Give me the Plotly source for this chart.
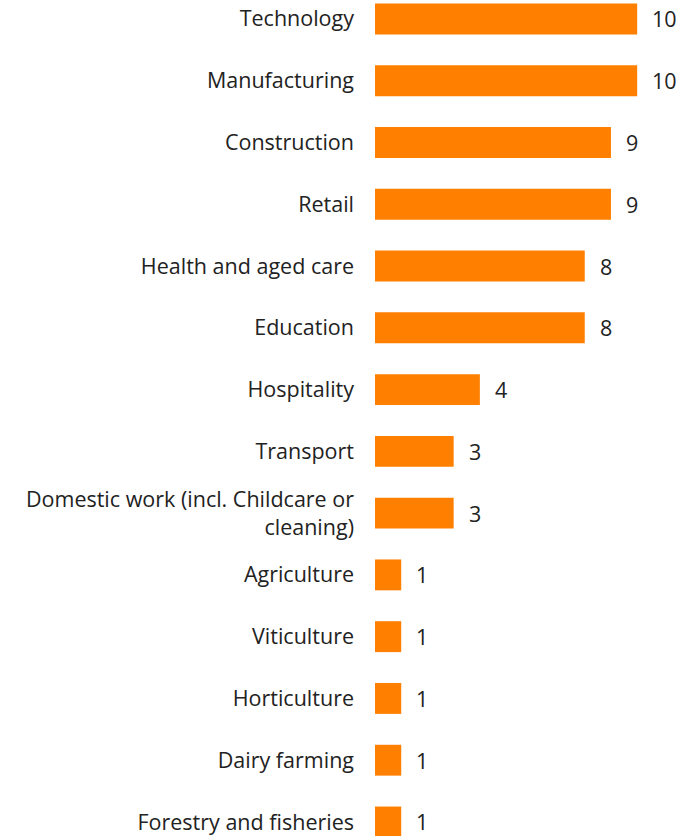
import plotly.graph_objects as go

# Sectors and counts
sectors = [
    "Technology",
    "Manufacturing",
    "Construction",
    "Retail",
    "Health and aged care",
    "Education",
    "Hospitality",
    "Transport",
    "Domestic work (incl. Childcare or<br>cleaning)",
    "Agriculture",
    "Viticulture",
    "Horticulture",
    "Dairy farming",
    "Forestry and fisheries",
]
counts = [10, 10, 9, 9, 8, 8, 4, 3, 3, 1, 1, 1, 1, 1]

FONT = "'Open Sans', sans-serif"
TEXT_COLOR = "#222222"
SIZE = 21.5

fig = go.Figure(
    go.Bar(
        x=counts,
        y=sectors,
        orientation="h",
        marker=dict(color="#FF8000", line=dict(width=0)),
        width=0.5,
        hoverinfo="x+y",
    )
)

# Value labels placed just past the end of each bar
for s, v in zip(sectors, counts):
    fig.add_annotation(
        x=v,
        y=s,
        text=str(v),
        showarrow=False,
        xanchor="left",
        yanchor="middle",
        xshift=13,
        font=dict(family=FONT, size=SIZE, color=TEXT_COLOR),
    )

fig.update_layout(
    width=687,
    height=836,
    margin=dict(l=375, r=0, t=0, b=0),
    paper_bgcolor="white",
    plot_bgcolor="white",
    showlegend=False,
    font=dict(family=FONT, size=SIZE, color=TEXT_COLOR),
)
fig.update_xaxes(
    range=[0, 11.9],
    visible=False,
    showgrid=False,
    zeroline=False,
)
fig.update_yaxes(
    range=[13.227, -0.307],
    showgrid=False,
    zeroline=False,
    showline=False,
    ticks="",
    ticklabelstandoff=20,
    tickfont=dict(family=FONT, size=SIZE, color=TEXT_COLOR),
)

fig.write_html("out.html")
